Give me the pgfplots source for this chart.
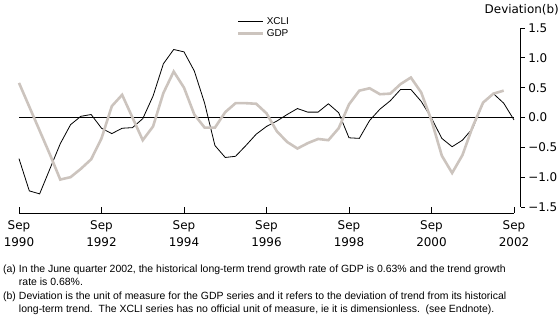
\documentclass[border=0pt]{standalone}
\usepackage{fontspec}
\setmainfont{Liberation Sans}
\newfontfamily\dv{DejaVu Sans}
\usepackage{pgfplots}
\usepackage{pgfplotstable}
\pgfplotsset{compat=1.18}
\definecolor{gdpgray}{RGB}{204,196,190}

\pgfplotstableread{
x v
1990.75 -0.69
1991.00 -1.23
1991.25 -1.28
1991.50 -0.86
1991.75 -0.44
1992.00 -0.12
1992.25 0.02
1992.50 0.05
1992.75 -0.18
1993.00 -0.27
1993.25 -0.18
1993.50 -0.17
1993.75 -0.02
1994.00 0.36
1994.25 0.90
1994.50 1.14
1994.75 1.10
1995.00 0.78
1995.25 0.24
1995.50 -0.47
1995.75 -0.67
1996.00 -0.65
1996.25 -0.47
1996.50 -0.28
1996.75 -0.15
1997.00 -0.06
1997.25 0.05
1997.50 0.15
1997.75 0.09
1998.00 0.09
1998.25 0.23
1998.50 0.08
1998.75 -0.34
1999.00 -0.35
1999.25 -0.05
1999.50 0.14
1999.75 0.28
2000.00 0.47
2000.25 0.47
2000.50 0.27
2000.75 -0.01
2001.00 -0.35
2001.25 -0.49
2001.50 -0.38
2001.75 -0.18
2002.00 0.24
2002.25 0.40
2002.50 0.24
2002.75 -0.04
}\xcli

\pgfplotstableread{
x v
1990.75 0.58
1991.00 0.18
1991.25 -0.22
1991.50 -0.62
1991.75 -1.04
1992.00 -1.00
1992.25 -0.86
1992.50 -0.70
1992.75 -0.35
1993.00 0.19
1993.25 0.38
1993.50 0.00
1993.75 -0.38
1994.00 -0.15
1994.25 0.41
1994.50 0.77
1994.75 0.50
1995.00 0.05
1995.25 -0.17
1995.50 -0.17
1995.75 0.09
1996.00 0.24
1996.25 0.24
1996.50 0.23
1996.75 0.07
1997.00 -0.23
1997.25 -0.41
1997.50 -0.52
1997.75 -0.43
1998.00 -0.36
1998.25 -0.38
1998.50 -0.18
1998.75 0.22
1999.00 0.45
1999.25 0.49
1999.50 0.39
1999.75 0.40
2000.00 0.56
2000.25 0.67
2000.50 0.42
2000.75 -0.05
2001.00 -0.64
2001.25 -0.93
2001.50 -0.63
2001.75 -0.15
2002.00 0.25
2002.25 0.40
2002.50 0.45
}\gdp

\begin{document}
\begin{tikzpicture}[x=1bp,y=1bp]
\useasboundingbox (0bp,0bp) rectangle (560bp,322bp);
% x axis only
\begin{axis}[
  at={(19bp,115bp)}, anchor=south west, scale only axis,
  width=495bp, height=179bp,
  xmin=1990.75, xmax=2002.75, ymin=-1.5, ymax=1.5,
  axis y line=none, axis x line*=bottom, axis x line shift=6bp,
  axis line style={-, line width=0.8bp, black},
  tick align=inside, major tick length=6bp,
  xtick={1990.75,1992.75,1994.75,1996.75,1998.75,2000.75,2002.75},
  xticklabels={{Sep\\1990},{Sep\\1992},{Sep\\1994},{Sep\\1996},{Sep\\1998},{Sep\\2000},{Sep\\2002}},
  xtick style={line width=0.8bp, black},
  xticklabel style={align=center, font=\dv\fontsize{12}{17.5}\selectfont, yshift=-4bp},
]
\end{axis}
% data + y axis
\begin{axis}[
  at={(19bp,115bp)}, anchor=south west, scale only axis,
  width=495bp, height=179bp,
  xmin=1990.75, xmax=2002.75, ymin=-1.5, ymax=1.5,
  axis x line=none, axis y line*=right, axis y line shift=6.5bp,
  axis line style={-, line width=0.8bp, black},
  tick align=outside, major tick length=4.3bp,
  ytick={-1.5,-1,-0.5,0,0.5,1,1.5},
  yticklabels={−1.5,−1.0,−0.5,0.0,0.5,1.0,1.5},
  ytick style={line width=0.8bp, black},
  yticklabel style={font=\dv\fontsize{12}{14}\selectfont},
  clip=false,
  legend style={at={(0.4404,1.07)}, anchor=north west, draw=none, fill=none,
    inner sep=0pt, font=\fontsize{10}{12}\selectfont, row sep=-1bp,
    cells={anchor=west}},
  legend image code/.code={\draw[#1] (0bp,0bp) -- (25bp,0bp);},
]
\addplot[black, line width=0.8bp, forget plot] coordinates {(1990.75,0) (2002.75,0)};
\addplot[black, line width=0.8bp] table[x=x, y=v] {\xcli};
\addlegendentry{XCLI}
\addplot[gdpgray, line width=2.6bp] table[x=x, y=v] {\gdp};
\addlegendentry{GDP}
\end{axis}
\node[anchor=east, font=\dv\fontsize{12}{14}\selectfont, inner sep=0pt] at (559bp,312bp) {Deviation(b)};
\node[anchor=north west, inner sep=0pt, font=\fontsize{10.5}{13.3}\selectfont] at (3bp,59bp) {%
\begin{tabular}{@{}l@{\hspace{3bp}}l@{}}
(a) & In the June quarter 2002, the historical long-term trend growth rate of GDP is 0.63\% and the trend growth\\
 & rate is 0.68\%.\\[0.5bp]
(b) & Deviation is the unit of measure for the GDP series and it refers to the deviation of trend from its historical\\
 & long-term trend.\ \ The XCLI series has no official unit of measure, ie it is dimensionless.\ \ (see Endnote).
\end{tabular}};
\end{tikzpicture}
\end{document}
